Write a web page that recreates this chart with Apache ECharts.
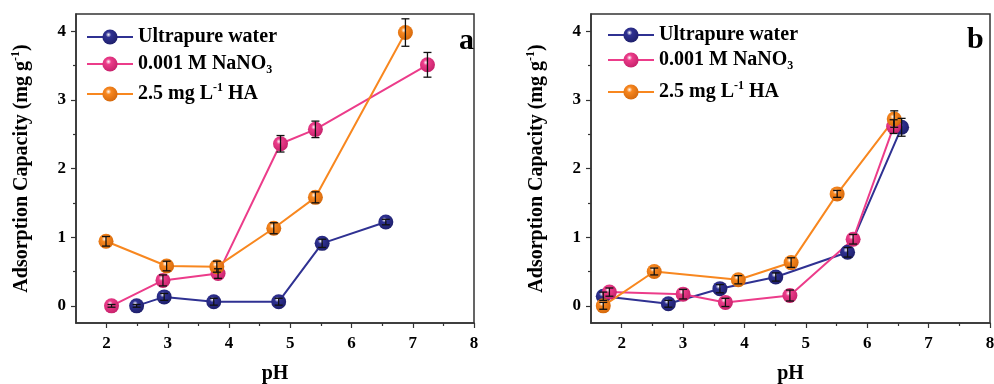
<!DOCTYPE html>
<html>
<head>
<meta charset="utf-8">
<script src="https://cdn.jsdelivr.net/npm/echarts@6/dist/echarts.min.js"></script>
<style>
  html, body { margin: 0; padding: 0; background: #fff; }
  #chart { width: 994px; height: 384px; }
</style>
</head>
<body>
<div id="chart"></div>
<script>
// tick labels
var xTicks = [2, 3, 4, 5, 6, 7, 8];
var xMinorTicks = [2.5, 3.5, 4.5, 5.5, 6.5, 7.5];
var yTicks = [0, 1, 2, 3, 4];
var yMinorTicks = [0.5, 1.5, 2.5, 3.5];

var seriesNames = ['Ultrapure water', '0.001 M NaNO3', '2.5 mg L-1 HA'];

// panel a
var phA_water = [2.49, 2.94, 3.75, 4.81, 5.52, 6.56];
var capA_water = [0.00, 0.13, 0.06, 0.06, 0.91, 1.22];
var errA_water = [0.02, 0.05, 0.05, 0.05, 0.06, 0.04];

var phA_nano3 = [2.08, 2.92, 3.82, 4.84, 5.41, 7.24];
var capA_nano3 = [0.00, 0.37, 0.47, 2.36, 2.57, 3.51];
var errA_nano3 = [0.02, 0.08, 0.07, 0.12, 0.12, 0.18];

var phA_ha = [1.99, 2.98, 3.80, 4.73, 5.41, 6.88];
var capA_ha = [0.94, 0.58, 0.57, 1.13, 1.58, 3.98];
var errA_ha = [0.07, 0.07, 0.08, 0.08, 0.08, 0.20];

// panel b
var phB_water = [1.70, 2.76, 3.60, 4.51, 5.68, 6.56];
var capB_water = [0.14, 0.03, 0.25, 0.42, 0.78, 2.60];
var errB_water = [0.06, 0.05, 0.06, 0.06, 0.07, 0.13];

var phB_nano3 = [1.80, 3.00, 3.69, 4.74, 5.77, 6.43];
var capB_nano3 = [0.20, 0.17, 0.05, 0.15, 0.97, 2.61];
var errB_nano3 = [0.06, 0.07, 0.06, 0.08, 0.07, 0.10];

var phB_ha = [1.70, 2.53, 3.90, 4.76, 5.51, 6.44];
var capB_ha = [0.00, 0.50, 0.38, 0.63, 1.63, 2.72];
var errB_ha = [0.05, 0.05, 0.06, 0.07, 0.05, 0.12];

(function() {
    var FONT = '"Liberation Serif", "Times New Roman", serif';
    var colors = ['#2F3192', '#EC3C8A', '#F8871F'];
    var darks = ['#1c1d66', '#c21f68', '#d0650a'];

    var zip = function(xs, ys, es) {
        var out = [];
        for (var i = 0; i < xs.length; i++) {
            out.push(es ? [xs[i], ys[i], es[i]] : [xs[i], ys[i]]);
        }
        return out;
    };

    var ball = function(i) {
        return new echarts.graphic.RadialGradient(0.4, 0.35, 0.72, [
            { offset: 0, color: '#ffffff' },
            { offset: 0.25, color: colors[i] },
            { offset: 1, color: darks[i] }
        ]);
    };

    // 误差棒
    var errorBar = function(params, api) {
        var x = api.value(0), y = api.value(1), e = api.value(2);
        var hi = api.coord([x, y + e]);
        var lo = api.coord([x, y - e]);
        var w = 4;
        var st = { stroke: '#111', lineWidth: 1.3 };
        return {
            type: 'group',
            children: [
                { type: 'line', shape: { x1: hi[0], y1: hi[1], x2: lo[0], y2: lo[1] }, style: st },
                { type: 'line', shape: { x1: hi[0] - w, y1: hi[1], x2: hi[0] + w, y2: hi[1] }, style: st },
                { type: 'line', shape: { x1: lo[0] - w, y1: lo[1], x2: lo[0] + w, y2: lo[1] }, style: st }
            ]
        };
    };

    var panels = [
        { xs: [phA_water, phA_nano3, phA_ha], ys: [capA_water, capA_nano3, capA_ha], es: [errA_water, errA_nano3, errA_ha] },
        { xs: [phB_water, phB_nano3, phB_ha], ys: [capB_water, capB_nano3, capB_ha], es: [errB_water, errB_nano3, errB_ha] }
    ];

    var grids = [
        { left: 76, right: 520, top: 14, bottom: 61 },
        { left: 591, right: 4, top: 14, bottom: 61 }
    ];
    grids.forEach(function(g) {
        g.show = true;
        g.borderColor = '#333';
        g.borderWidth = 1.5;
        g.backgroundColor = 'transparent';
        g.containLabel = false;
        g.outerBoundsMode = 'none';
    });

    var xAxes = [], yAxes = [], series = [], legends = [];
    var rich = {
        n: { fontFamily: FONT, fontWeight: 'bold', fontSize: 20, color: '#000', lineHeight: 24 },
        sup: { fontFamily: FONT, fontWeight: 'bold', fontSize: 12, color: '#000', lineHeight: 12, verticalAlign: 'top' },
        sub: { fontFamily: FONT, fontWeight: 'bold', fontSize: 12, color: '#000', lineHeight: 12, verticalAlign: 'bottom' }
    };
    var legendText = {
        'Ultrapure water': '{n|Ultrapure water}',
        '0.001 M NaNO3': '{n|0.001 M NaNO}{sub|3}',
        '2.5 mg L-1 HA': '{n|2.5 mg L}{sup|-1}{n| HA}'
    };
    var tickLine = { color: '#333', width: 1.2 };

    for (var p = 0; p < 2; p++) {
        xAxes.push({
            type: 'value', gridIndex: p, min: 1.5, max: 8, position: 'bottom',
            name: 'pH', nameLocation: 'middle', nameGap: 41,
            nameTextStyle: { fontFamily: FONT, fontWeight: 'bold', fontSize: 20, color: '#000' },
            axisLine: { show: true, onZero: false, lineStyle: { color: '#333', width: 1.5 } },
            axisTick: { show: true, length: 5, customValues: xTicks, lineStyle: tickLine },
            axisLabel: { customValues: xTicks, margin: 12, fontFamily: FONT, fontWeight: 'bold', fontSize: 17, color: '#000' },
            splitLine: { show: false }
        });
        xAxes.push({
            type: 'value', gridIndex: p, min: 1.5, max: 8, position: 'bottom',
            axisLine: { show: false, onZero: false },
            axisTick: { show: true, length: 3, customValues: xMinorTicks, lineStyle: tickLine },
            axisLabel: { show: false },
            splitLine: { show: false }
        });
        yAxes.push({
            type: 'value', gridIndex: p, min: -0.25, max: 4.25, position: 'left',
            name: '{n|Adsorption Capacity (mg g}{sup|-1}{n|)}',
            nameLocation: 'middle', nameGap: 42,
            nameTextStyle: { rich: rich },
            axisLine: { show: true, onZero: false, lineStyle: { color: '#333', width: 1.5 } },
            axisTick: { show: true, length: 5, customValues: yTicks, lineStyle: tickLine },
            axisLabel: { customValues: yTicks, margin: 10, fontFamily: FONT, fontWeight: 'bold', fontSize: 17, color: '#000' },
            splitLine: { show: false }
        });
        yAxes.push({
            type: 'value', gridIndex: p, min: -0.25, max: 4.25, position: 'left',
            axisLine: { show: false, onZero: false },
            axisTick: { show: true, length: 3, customValues: yMinorTicks, lineStyle: tickLine },
            axisLabel: { show: false },
            splitLine: { show: false }
        });

        for (var i = 0; i < 3; i++) {
            var d = panels[p];
            series.push({
                type: 'line',
                name: seriesNames[i],
                xAxisIndex: p * 2, yAxisIndex: p * 2,
                data: zip(d.xs[i], d.ys[i]),
                symbol: 'circle', symbolSize: 15,
                lineStyle: { color: colors[i], width: 2 },
                itemStyle: { color: ball(i) },
                z: 2
            });
            series.push({
                type: 'custom',
                name: seriesNames[i] + ' err',
                xAxisIndex: p * 2, yAxisIndex: p * 2,
                data: zip(d.xs[i], d.ys[i], d.es[i]),
                encode: { x: 0, y: 1 },
                renderItem: errorBar,
                z: 5
            });
        }
    }

    // 图例, 每项单独定位
    var legendTops = [[27, 54, 82], [25, 50, 80]];
    var legendLefts = [86, 607];
    for (var p = 0; p < 2; p++) {
        for (var i = 0; i < 3; i++) {
            legends.push({
                data: [seriesNames[i]],
                left: legendLefts[p], top: legendTops[p][i],
                padding: 0,
                itemWidth: 46, itemHeight: 19,
                selectedMode: false,
                lineStyle: { width: 2 },
                formatter: function(name) { return legendText[name]; },
                textStyle: { rich: rich }
            });
        }
    }

    var echart = echarts.init(document.getElementById('chart'), null, { renderer: 'canvas' });
    echart.setOption({
        animation: false,
        backgroundColor: '#fff',
        grid: grids,
        xAxis: xAxes,
        yAxis: yAxes,
        legend: legends,
        graphic: [
            { type: 'text', left: 459, top: 26, z: 10, style: { text: 'a', font: 'bold 30px ' + FONT, fill: '#000' } },
            { type: 'text', left: 967, top: 25, z: 10, style: { text: 'b', font: 'bold 30px ' + FONT, fill: '#000' } }
        ],
        series: series
    });
})();
</script>
</body>
</html>
